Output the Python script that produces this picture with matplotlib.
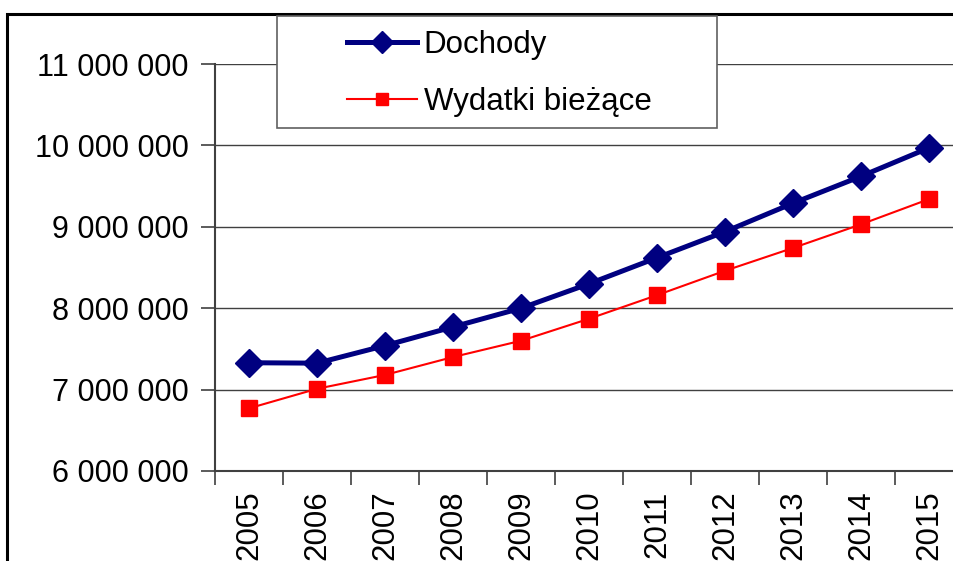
import matplotlib
matplotlib.use("Agg")
import matplotlib.pyplot as plt
from matplotlib.patches import Rectangle
from matplotlib.ticker import FuncFormatter

plt.rcParams['font.family'] = ['Liberation Sans', 'DejaVu Sans']

years = ['2005', '2006', '2007', '2008', '2009', '2010', '2011', '2012', '2013', '2014', '2015']
dochody = [7330000, 7325000, 7540000, 7770000, 8000000, 8300000, 8620000, 8940000, 9290000, 9620000, 9970000]
wydatki = [6770000, 7010000, 7180000, 7400000, 7600000, 7870000, 8160000, 8460000, 8740000, 9030000, 9340000]
series_names = ['Dochody', 'Wydatki bieżące']

W, H = 954, 561
fig = plt.figure(figsize=(W/100, H/100), dpi=100)

# outer chart frame (extends beyond the right/bottom edge of the image)
fig.patches.append(Rectangle((7.5/W, -0.1), 1.2, 1.1 - 13.5/H, transform=fig.transFigure,
                             fill=False, edgecolor='black', lw=2.2, zorder=0))

ax_l, ax_b = 215/W, (H-471)/H
ax_w, ax_h = 748/W, 407/H
ax = fig.add_axes([ax_l, ax_b, ax_w, ax_h])

x = list(range(len(years)))
ax.plot(x, dochody, color='#000080', lw=3.6, marker='D', ms=14.5, label=series_names[0], zorder=3)
ax.plot(x, wydatki, color='#FF0000', lw=1.5, marker='s', ms=11, label=series_names[1], zorder=3)

ax.set_xlim(-0.5, len(years)-0.5)
ax.set_ylim(6000000, 11000000)
ax.set_yticks([6000000, 7000000, 8000000, 9000000, 10000000, 11000000])
ax.yaxis.set_major_formatter(FuncFormatter(lambda v, p: f"{int(v):,}".replace(',', ' ')))
ax.set_xticks([i - 0.5 for i in range(len(years)+1)], minor=False)
ax.set_xticklabels([])
ax.set_xticks(x, minor=True)
ax.set_xticklabels(years, minor=True, rotation=90, fontsize=22.5)
ax.tick_params(axis='x', which='minor', length=0, pad=14)
ax.tick_params(axis='x', which='major', length=10, width=1.2, color='#404040', direction='out')
ax.tick_params(axis='y', length=10, width=1.2, color='#404040', direction='out', labelsize=22, pad=9)
for lab in ax.get_xticklabels(minor=True):
    lab.set_va('top')

ax.yaxis.grid(True, color='#404040', lw=1.0)
for s in ['top', 'right']:
    ax.spines[s].set_visible(False)
for s in ['left', 'bottom']:
    ax.spines[s].set_color('#404040')
    ax.spines[s].set_linewidth(1.5)

# legend frame
fig.patches.append(Rectangle((277/W, (H-128)/H), 440/W, 112/H, transform=fig.transFigure,
                             facecolor='white', edgecolor='#606060', lw=1.2, zorder=5))
leg = fig.legend(loc='upper left', bbox_to_anchor=(347/W, (H-30)/H), frameon=False,
                 fontsize=22.5, handlelength=2.25, handletextpad=0.2, labelspacing=0.87,
                 borderpad=0, borderaxespad=0, markerscale=0.8)
leg.set_zorder(6)

fig.savefig('out.png', dpi=100)
